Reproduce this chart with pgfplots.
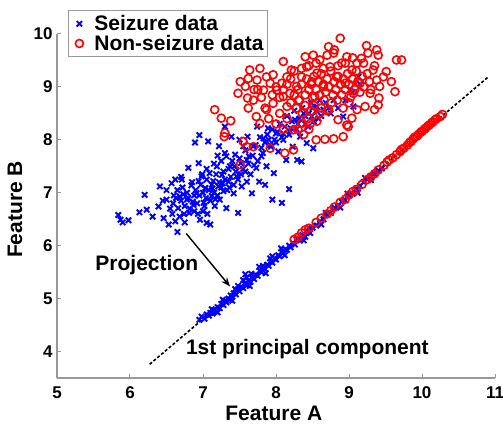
\documentclass[border=0pt]{standalone}
\usepackage{fontspec}
\setmainfont{Liberation Sans}
\usepackage{pgfplots}
\pgfplotsset{compat=1.18}
\usetikzlibrary{arrows.meta}

% legend entries: a single mark, no line
\pgfplotsset{
  legx/.style={legend image code/.code={%
    \path (0pt,0pt) (16pt,0pt);
    \draw[blue, line width=1.9pt, mark size=3.8pt] plot[only marks, mark=x] coordinates {(8pt,0pt)};}},
  lego/.style={legend image code/.code={%
    \path (0pt,0pt) (16pt,0pt);
    \draw[red, line width=1.6pt, mark size=4pt] plot[only marks, mark=o] coordinates {(8pt,0pt)};}},
}

% seizure samples in feature space
\newcommand{\seizure}{
(5.84,6.58)(5.87,6.49)(5.90,6.44)(5.98,6.48)(6.13,6.63)(6.20,6.96)(6.23,6.68)(6.31,6.55)
(6.39,6.74)(6.41,7.12)(6.46,6.52)(6.50,6.87)(6.53,6.40)(6.57,7.18)(6.59,6.80)(6.62,6.46)
(6.65,6.26)(6.66,6.71)(6.68,6.93)(6.71,7.25)(6.75,6.44)(6.78,6.87)(6.80,7.47)(6.81,6.62)
(6.84,7.14)(6.87,6.77)(6.89,7.95)(6.91,6.99)(6.94,7.56)(6.95,8.09)(6.96,6.49)(6.98,7.31)
(7.01,6.81)(7.03,7.09)(7.05,6.43)(7.07,7.97)(7.09,7.37)(7.10,6.40)(7.12,6.94)(7.14,7.22)
(7.16,6.75)(7.19,7.50)(7.21,7.12)(7.22,7.88)(7.23,6.87)(7.26,7.34)(7.28,7.03)(7.30,8.25)
(7.32,7.69)(7.32,6.71)(7.35,7.21)(7.37,7.50)(7.39,8.06)(7.42,6.99)(7.44,7.72)(7.46,7.31)
(7.48,6.62)(7.50,8.00)(7.52,7.56)(7.53,7.12)(7.55,7.88)(7.58,7.40)(7.60,7.21)(7.61,8.06)
(7.63,7.69)(7.67,6.99)(7.69,7.88)(7.73,7.47)(7.74,8.25)(7.77,7.21)(7.80,7.69)(7.83,8.03)
(7.85,7.15)(7.87,7.50)(7.89,8.22)(7.93,7.87)(7.95,6.87)(7.97,7.37)(8.00,8.12)(8.03,7.78)
(8.08,6.81)(8.10,8.00)(8.14,7.62)(8.18,7.07)(8.19,8.16)(8.23,7.87)(8.26,8.38)(8.29,7.62)
(8.33,8.06)(8.35,7.59)(8.38,8.50)(8.42,7.94)(8.44,8.25)(8.49,8.44)(8.51,7.84)(8.56,8.63)
(8.60,8.75)(8.65,8.57)(8.72,8.60)(8.79,8.75)(8.92,8.44)(9.01,8.94)(9.13,9.19)(9.06,8.63)
(6.60,6.95)(6.65,7.05)(6.70,6.85)(6.72,7.10)(6.75,6.75)(6.78,7.00)(6.80,6.90)(6.82,6.70)
(6.85,7.20)(6.88,6.95)(6.90,7.05)(6.92,6.80)(6.95,6.95)(6.97,7.15)(7.00,7.00)(7.02,6.75)
(7.05,7.25)(7.08,7.05)(7.10,6.85)(7.12,7.15)(7.15,7.00)(7.18,7.35)(7.20,6.95)(7.22,7.20)
(7.25,7.10)(7.28,7.40)(7.30,7.25)(7.33,7.05)(7.35,7.45)(7.38,7.30)(7.40,7.60)(7.42,7.15)
(7.45,7.40)(7.48,7.25)(7.50,7.65)(7.55,7.45)(7.58,7.80)(7.62,7.55)(7.65,7.35)(7.68,7.70)
(7.72,7.90)(7.75,7.60)(7.78,8.05)(7.82,7.75)(7.85,7.95)(7.88,8.10)(7.92,7.90)(7.95,8.20)
(7.98,8.00)(8.02,8.15)(8.05,8.30)(8.08,8.05)(8.12,8.25)(8.15,8.45)(8.18,8.10)(8.22,8.35)
(8.25,8.55)(8.28,8.20)(8.32,8.40)(8.36,8.60)(8.40,8.30)(8.45,8.50)(8.48,8.70)(8.52,8.35)
(8.55,8.55)(8.62,8.45)(8.68,8.70)(8.75,8.50)(8.85,8.60)(8.95,8.75)(9.05,8.90)(9.15,9.05)
(6.45,6.85)(6.50,7.05)(6.55,6.70)(6.58,6.60)(6.62,7.25)(6.68,6.55)(6.70,7.30)(6.74,6.60)
(6.88,6.65)(6.93,6.60)(7.00,6.65)(7.06,6.60)(6.99,7.35)(7.05,7.45)(7.15,7.55)(7.25,7.60)
(7.30,7.75)(7.20,7.70)(6.63,6.90)(6.73,6.97)(6.86,6.83)(6.94,7.22)(7.04,6.90)(7.13,7.08)
(7.17,6.88)(7.27,7.18)(7.36,7.10)(7.43,7.50)(7.52,7.35)(7.60,7.62)(7.70,7.52)(7.80,7.85)
(7.90,8.00)(8.00,7.95)(8.10,8.12)(8.20,8.22)(8.30,8.30)(8.40,8.45)(8.50,8.60)(8.58,8.40)}

% non-seizure samples in feature space
\newcommand{\nonseizure}{
(7.16,8.57)(7.25,8.41)(7.38,8.36)(7.30,8.13)(7.29,8.06)(7.48,8.88)(7.51,9.10)(7.58,9.01)
(7.64,9.32)(7.62,9.16)(7.78,9.35)(7.74,9.13)(7.61,8.79)(7.62,8.60)(7.69,8.75)(7.73,8.44)
(7.78,8.31)(7.83,8.94)(7.87,9.19)(7.92,9.07)(7.96,9.23)(8.01,8.94)(8.10,9.48)(8.08,9.07)
(8.15,9.19)(8.19,8.88)(8.21,9.32)(8.28,9.01)(8.31,8.75)(8.35,9.19)(8.40,9.57)(8.42,9.38)
(8.49,9.10)(8.51,9.60)(8.53,8.82)(8.56,9.26)(8.60,9.51)(8.65,9.01)(8.72,9.76)(8.74,9.38)
(8.79,9.64)(8.83,9.19)(8.88,9.92)(8.90,9.45)(8.95,9.07)(8.97,9.57)(9.04,9.32)(9.06,8.88)
(9.11,9.45)(9.15,9.07)(9.17,9.54)(9.24,9.78)(9.26,9.64)(9.29,8.88)(9.33,9.32)(9.38,9.70)
(9.40,9.60)(9.38,9.13)(9.42,9.01)(9.41,8.79)(9.35,8.57)(9.40,8.66)(9.47,9.19)(9.51,9.29)
(9.58,9.10)(9.63,8.91)(9.65,9.51)(9.72,9.51)(9.22,8.63)(9.11,8.57)(9.04,8.41)(8.97,8.28)
(8.99,8.25)(8.92,8.06)(8.79,8.02)(8.67,8.01)(8.55,8.00)(8.85,8.38)(8.72,8.57)(8.60,8.50)
(8.47,8.31)(8.35,8.31)(8.24,8.19)(8.24,7.81)(8.12,7.75)(7.92,7.84)(7.69,7.87)(7.60,7.87)
(7.51,7.53)(7.55,7.97)(7.87,8.57)(7.96,8.69)(8.05,8.50)(8.15,8.63)(8.10,8.82)
(8.30,8.95)(8.35,9.05)(8.40,8.85)(8.42,9.15)(8.45,8.95)(8.48,9.05)(8.50,8.80)(8.52,9.20)
(8.55,8.95)(8.58,9.10)(8.60,8.85)(8.62,9.25)(8.65,9.05)(8.68,8.90)(8.70,9.15)(8.72,9.00)
(8.75,9.30)(8.78,8.85)(8.80,9.10)(8.82,8.95)(8.85,9.20)(8.88,9.05)(8.90,8.85)(8.92,9.15)
(8.95,8.95)(8.98,9.25)(9.00,9.05)(9.02,8.80)(9.05,9.15)(9.08,8.95)(9.10,9.30)(9.12,9.10)
(9.15,8.90)(9.18,9.20)(9.20,9.00)(9.25,9.25)(9.28,9.10)(9.30,8.95)(9.35,9.40)(8.20,8.70)
(8.25,8.85)(8.28,8.60)(8.32,8.75)(8.36,8.50)(8.40,8.65)(8.44,8.40)(8.48,8.55)(8.52,8.65)
(8.56,8.35)(8.62,8.60)(8.66,8.75)(8.70,8.55)(8.76,8.70)(8.84,8.75)(8.92,8.60)(9.00,8.70)
(8.05,8.80)(8.00,9.00)(7.95,8.85)(8.10,8.95)(8.15,9.05)(8.20,9.15)(8.25,9.30)(8.35,9.35)
(8.45,9.40)(8.55,9.45)(8.65,9.35)(8.85,9.40)(8.95,9.45)(9.05,9.55)(9.20,9.45)(8.70,9.60)
(8.80,9.70)(7.90,8.40)(8.00,8.30)(8.10,8.20)(8.15,8.40)(8.30,8.20)(8.38,8.10)(8.45,8.20)
(7.85,8.60)(7.80,8.80)(7.75,8.95)(7.70,8.95)}

% seizure samples projected onto the 1st principal component
\newcommand{\seizureproj}{
(6.95,4.60)(6.98,4.66)(7.02,4.62)(7.05,4.70)(7.08,4.68)(7.10,4.73)(7.13,4.72)(7.15,4.78)
(7.18,4.76)(7.20,4.84)(7.23,4.82)(7.25,4.90)(7.28,4.88)(7.30,4.96)(7.32,4.93)(7.35,5.00)
(7.37,4.98)(7.40,5.04)(7.42,5.10)(7.45,5.08)(7.47,5.17)(7.50,5.14)(7.52,5.22)(7.55,5.20)
(7.57,5.28)(7.60,5.25)(7.62,5.34)(7.65,5.32)(7.67,5.40)(7.70,5.37)(7.72,5.45)(7.75,5.43)
(7.78,5.52)(7.80,5.50)(7.83,5.58)(7.85,5.56)(7.88,5.64)(7.90,5.62)(7.93,5.70)(7.95,5.68)
(7.98,5.76)(8.00,5.74)(8.03,5.82)(8.05,5.80)(8.08,5.88)(8.10,5.86)(8.13,5.93)(8.15,5.92)
(8.18,6.00)(8.20,5.97)(8.23,6.05)(8.26,6.02)(8.30,6.12)(8.33,6.10)(8.36,6.20)(8.40,6.17)
(8.43,6.26)(8.47,6.24)(8.50,6.34)(8.55,6.38)(8.60,6.46)(8.65,6.50)(8.70,6.58)(8.75,6.62)
(8.80,6.72)(8.85,6.75)(8.90,6.83)(8.95,6.86)(9.00,6.95)(9.05,6.98)(9.10,7.08)(9.15,7.13)
(9.20,7.20)(9.25,7.25)(9.30,7.32)(9.35,7.36)(9.40,7.42)(9.45,7.46)
(7.55,5.35)(7.60,5.40)(7.48,5.24)(7.82,5.62)(7.95,5.80)(7.38,5.06)
(7.12,4.80)(7.27,4.98)(7.44,5.18)(7.58,5.46)(7.66,5.47)(7.77,5.60)(7.92,5.76)(8.07,5.95)
(7.20,4.74)(7.40,4.96)(7.64,5.24)(7.86,5.48)(8.12,5.82)(8.38,6.10)(8.62,6.40)(8.88,6.72)
(9.12,7.00)(9.30,7.24)(8.45,6.34)(8.68,6.62)(8.98,6.98)(9.22,7.28)}

% non-seizure samples projected onto the 1st principal component
\newcommand{\nonseizureproj}{
(8.25,6.12)(8.30,6.16)(8.35,6.24)(8.40,6.30)(8.45,6.33)(8.55,6.44)(8.62,6.52)(8.70,6.60)
(8.75,6.66)(8.80,6.73)(8.88,6.82)(8.95,6.88)(9.00,6.96)(9.05,7.02)(9.10,7.06)(9.18,7.16)
(9.25,7.25)(9.30,7.30)(9.35,7.36)(9.40,7.43)(9.48,7.52)(9.52,7.58)(9.55,7.62)(9.60,7.66)
(9.65,7.72)(9.70,7.78)(9.72,7.82)(9.75,7.84)(9.80,7.90)(9.83,7.95)(9.85,7.97)(9.88,8.02)
(9.90,8.05)(9.93,8.07)(9.95,8.10)(9.98,8.14)(10.00,8.16)(10.03,8.20)(10.05,8.22)(10.08,8.26)
(10.10,8.28)(10.13,8.32)(10.15,8.34)(10.18,8.38)(10.20,8.40)(10.25,8.44)(10.28,8.48)}

\begin{document}
\begin{tikzpicture}
\begin{axis}[
  scale only axis,
  width=438pt, height=344pt,
  xmin=5, xmax=11, ymin=3.5, ymax=10,
  xtick={5,...,11}, ytick={4,...,10},
  axis x line*=bottom, axis y line*=left,
  axis line style={draw=gray!80, line width=1.2pt},
  tick style={draw=gray!80, line width=1pt},
  tick align=inside,
  major tick length=4pt,
  /pgf/number format/assume math mode=true,
  ticklabel style={font=\bfseries\fontsize{17}{17}\selectfont, text=black},
  xticklabel style={yshift=-5pt},
  yticklabel style={xshift=-1pt},
  xlabel={Feature A}, ylabel={Feature B},
  label style={font=\bfseries\fontsize{21}{21}\selectfont},
  xlabel style={at={(axis description cs:0.495,-0.102)}, anchor=center},
  ylabel style={at={(axis description cs:-0.096,0.49)}, anchor=center, rotate=0},
  clip=false,
  legend style={at={(axis description cs:0.025,1.07)}, anchor=north west,
    draw=gray!80, line width=1pt, fill=white,
    font=\bfseries\fontsize{21}{21}\selectfont,
    inner xsep=2pt, inner ysep=3pt, row sep=-1pt,
    nodes={inner sep=2pt},
    /tikz/every odd column/.append style={column sep=4pt}},
  legend cell align=left,
]
% 1st principal component
\addplot[forget plot, black, line width=1.6pt, dash pattern=on 3pt off 2pt]
  coordinates {(6.27,3.76) (10.9,9.18)};
\addplot[only marks, mark=x, mark size=3.8pt, blue, line width=1.9pt, legx]
  coordinates {\seizure};
\addlegendentry{Seizure data}
\addplot[only marks, mark=o, mark size=4pt, red, line width=1.6pt, lego]
  coordinates {\nonseizure};
\addlegendentry{Non-seizure data}
\addplot[forget plot, only marks, mark=x, mark size=3.8pt, blue, line width=1.9pt]
  coordinates {\seizureproj};
\addplot[forget plot, only marks, mark=o, mark size=4pt, red, line width=1.6pt]
  coordinates {\nonseizureproj};
\draw[-{Stealth[length=9pt,width=7pt]}, line width=1.4pt, black]
  (axis cs:6.77,6.23) -- (axis cs:7.37,5.23);
\node[font=\bfseries\fontsize{21}{21}\selectfont] at (axis cs:6.23,5.64) {Projection};
\node[font=\bfseries\fontsize{21}{21}\selectfont] at (axis cs:8.43,4.04) {1st principal component};
\end{axis}
\pgfresetboundingbox
\path[use as bounding box] (-57pt,-49pt) rectangle (446pt,378pt);
\end{tikzpicture}
\end{document}
